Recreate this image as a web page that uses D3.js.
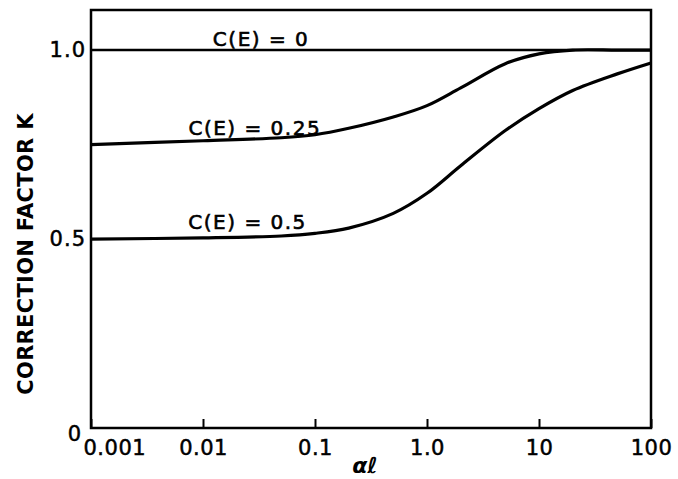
<!DOCTYPE html>
<html>
<head>
<meta charset="utf-8">
<script src="https://cdn.jsdelivr.net/npm/d3@7"></script>
<style>
  body { margin: 0; background: #fff; }
  svg { display: block; }
  text { font-family: "DejaVu Sans", sans-serif; fill: #000; }
</style>
</head>
<body>
<div id="main"></div>
<script>
// Datos: factor de corrección K contra alfa*l
var alphaL = [0.001, 0.01, 0.05, 0.1, 0.2, 0.5, 1, 2, 5, 10, 20, 50, 100];
var k0 = [1, 1, 1, 1, 1, 1, 1, 1, 1, 1, 1, 1, 1];
var k025 = [0.750, 0.760, 0.768, 0.776, 0.793, 0.823, 0.853, 0.900, 0.964, 0.990, 1.0, 1.0, 1.0];
var k05 = [0.500, 0.503, 0.508, 0.515, 0.529, 0.568, 0.621, 0.694, 0.787, 0.845, 0.893, 0.937, 0.966];
var serieNombres = ["C(E) = 0", "C(E) = 0.25", "C(E) = 0.5"];
var etiquetaX = [0.033, 0.029, 0.025];
var xTicks = [0.001, 0.01, 0.1, 1, 10, 100];
var xTickLabels = ["0.001", "0.01", "0.1", "1.0", "10", "100"];
var yTicks = [0, 0.5, 1.0];
var yTickLabels = ["0", "0.5", "1.0"];

var totalWidth = 678;
var totalHeight = 479;
var margin = { top: 10, right: 27, bottom: 51, left: 91 };
var w = totalWidth - margin.left - margin.right;
var h = totalHeight - margin.top - margin.bottom;

var svg = d3.select("#main").append("svg")
  .attr("width", totalWidth)
  .attr("height", totalHeight);

var g = svg.append("g").attr("transform", "translate(" + margin.left + "," + margin.top + ")");

var x = d3.scaleLog().domain([0.001, 100]).range([0, w]);
var y = d3.scaleLinear().domain([0, 1.106]).range([h, 0]);

// Marco
g.append("rect")
  .attr("x", 0).attr("y", 0).attr("width", w).attr("height", h)
  .attr("fill", "none").attr("stroke", "#000").attr("stroke-width", 2.5);

// Eje X con marcas hacia adentro
var xAxis = g.append("g")
  .attr("transform", "translate(0," + h + ")")
  .call(d3.axisBottom(x).tickValues(xTicks).tickSize(-9).tickPadding(12)
    .tickFormat(function(d, i) { return xTickLabels[i]; }));
xAxis.select(".domain").remove();
xAxis.selectAll("line").attr("stroke", "#000").attr("stroke-width", 2);
xAxis.selectAll("text")
  .attr("font-size", 21).attr("fill", "#000")
  .attr("stroke", "#000").attr("stroke-width", 0.5)
  .style("letter-spacing", "0.5px");
xAxis.selectAll("text").filter(function(d, i) { return i === 0; })
  .attr("text-anchor", "start").attr("dx", -8);

// Eje Y sin marcas
var yAxis = g.append("g")
  .call(d3.axisLeft(y).tickValues(yTicks).tickSize(0).tickPadding(5)
    .tickFormat(function(d, i) { return yTickLabels[i]; }));
yAxis.select(".domain").remove();
yAxis.selectAll("text").attr("font-size", 21).attr("fill", "#000")
  .attr("stroke", "#000").attr("stroke-width", 0.5)
  .style("letter-spacing", "1px");
yAxis.selectAll("text").filter(function(d, i) { return i === 0; })
  .attr("dy", "0.6em").attr("dx", -4);

// Curvas
var series = [k0, k025, k05];
var line = d3.line()
  .x(function(d, i) { return x(alphaL[i]); })
  .y(function(d) { return y(d); })
  .curve(d3.curveCatmullRom.alpha(0.5));

series.forEach(function(s, j) {
  g.append("path")
    .attr("d", line(s))
    .attr("fill", "none")
    .attr("stroke", "#000")
    .attr("stroke-width", j === 0 ? 2.5 : 3.2)
    .attr("stroke-linejoin", "round");

  // Etiqueta de cada curva, sobre la línea
  g.append("text")
    .attr("x", x(etiquetaX[j]))
    .attr("y", y(s[0]) - (j === 0 ? 4 : 10))
    .attr("text-anchor", "middle")
    .attr("font-size", 20)
    .attr("stroke", "#000").attr("stroke-width", 0.6)
    .style("letter-spacing", "1.5px")
    .text(serieNombres[j]);
});

// Títulos de los ejes
svg.append("text")
  .attr("transform", "translate(33,254) rotate(-90)")
  .attr("text-anchor", "middle")
  .attr("font-size", 21)
  .attr("font-weight", "bold")
  .style("letter-spacing", "0.3px")
  .text("CORRECTION FACTOR K");

svg.append("text")
  .attr("x", margin.left + x(1) - 62)
  .attr("y", totalHeight - 6)
  .attr("text-anchor", "middle")
  .attr("font-size", 22)
  .attr("font-weight", "bold")
  .attr("font-style", "italic")
  .text("αℓ");
</script>
</body>
</html>
